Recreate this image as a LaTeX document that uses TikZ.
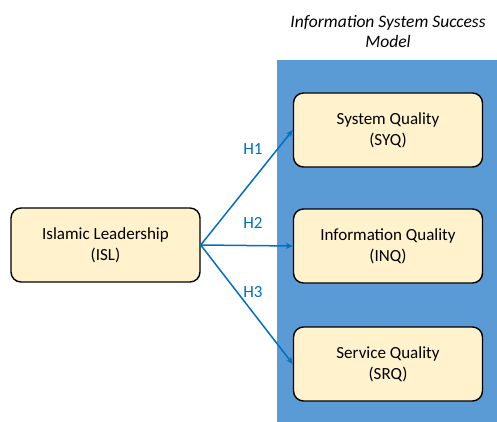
\documentclass[tikz,border=0pt]{standalone}
\usepackage{fontspec}
\setmainfont{Carlito}
\usetikzlibrary{arrows.meta}
\definecolor{panelblue}{HTML}{5B9BD5}
\definecolor{boxfill}{HTML}{FFF2CC}
\definecolor{linkblue}{HTML}{0070C0}
\tikzset{
  x=1pt, y=-1pt,
  construct/.style={draw=black, line width=1.4pt, fill=boxfill, rounded corners=10pt,
    minimum width=189pt, minimum height=74pt, align=center,
    font=\fontsize{17}{21}\selectfont, inner sep=0pt},
  hyp/.style={draw=linkblue, line width=1.5pt, -{Stealth[length=7pt,width=6pt]}},
  hlabel/.style={text=linkblue, font=\fontsize{17}{20}\selectfont},
}
\begin{document}
\begin{tikzpicture}
\useasboundingbox (0,0) rectangle (497,422);
\fill[panelblue] (277,60) rectangle (497,422);
\node[font=\itshape\fontsize{17.5}{20}\selectfont, align=center] (title) at (388,32)
  {Information System Success\\Model};
\node[construct] (isl) at (105.5,245) {Islamic Leadership\\(ISL)};
\node[construct] (syq) at (388,130) {System Quality\\(SYQ)};
\node[construct] (inq) at (388,246) {Information Quality\\(INQ)};
\node[construct] (srq) at (388,364) {Service Quality\\(SRQ)};
\coordinate (hub) at (isl.east);
\draw[hyp] (hub) -- (syq.west);
\draw[hyp] (hub) -- (inq.west);
\draw[hyp] (hub) -- (srq.west);
\node[hlabel] (h1) at (253,149) {H1};
\node[hlabel] (h2) at (253,223) {H2};
\node[hlabel] (h3) at (253,292) {H3};
\end{tikzpicture}
\end{document}
